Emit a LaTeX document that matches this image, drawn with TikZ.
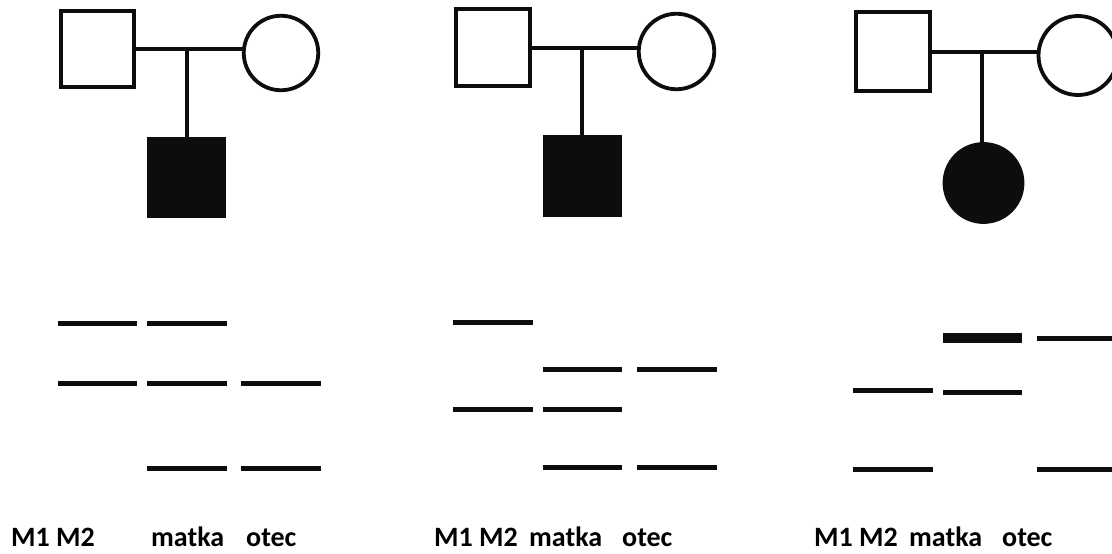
\documentclass[tikz,border=0pt]{standalone}
\usepackage{fontspec}
\setmainfont{Carlito}[BoldFont={Carlito Bold}]
\begin{document}
\begin{tikzpicture}[x=1pt,y=-1pt,
  ped/.style={line width=3.8pt,draw=black!95},
  male/.style={ped,rectangle,inner sep=0pt,outer sep=0pt},
  female/.style={ped,circle,inner sep=0pt,outer sep=0pt},
  aff/.style={fill=black!95},
  band/.style={line width=5pt,draw=black!95},
  thickband/.style={line width=10pt,draw=black!95},
  lab/.style={anchor=base west,inner sep=0pt,font=\fontsize{28}{28}\selectfont\bfseries}]
\clip (0,0) rectangle (1112,554);
\fill[white] (0,0) rectangle (1112,554);

% ---------- panel 1 ----------
\node[male,minimum width=73.5pt,minimum height=76.5pt] (f1) at (97.5,49) {};
\node[female,minimum size=74.5pt] (m1) at (281,53) {};
\node[male,aff,minimum width=76pt,minimum height=78pt] (c1) at (186.5,177.5) {};
\coordinate (j1) at (187,49);
\draw[ped] (f1.east |- j1) -- (j1) -- (m1.west |- j1);
\draw[ped] (j1) -- (c1.north -| j1);

% ---------- panel 2 ----------
\node[male,minimum width=74.5pt,minimum height=77.5pt] (f2) at (493,47.5) {};
\node[female,minimum size=75.5pt] (m2) at (676.5,51.5) {};
\node[male,aff,minimum width=76pt,minimum height=79pt] (c2) at (582.5,176) {};
\coordinate (j2) at (582,48);
\draw[ped] (f2.east |- j2) -- (j2) -- (m2.west |- j2);
\draw[ped] (j2) -- (c2.north -| j2);

% ---------- panel 3 ----------
\node[male,minimum width=74.5pt,minimum height=79.5pt] (f3) at (893,51.5) {};
\node[female,minimum size=79pt] (m3) at (1078,55.5) {};
\node[female,aff,minimum size=78pt] (c3) at (983.5,183) {};
\coordinate (j3) at (982,52);
\draw[ped] (f3.east |- j3) -- (j3) -- (m3.west |- j3);
\draw[ped] (j3) -- (c3.north -| j3);

% ---------- bands panel 1 ----------
\draw[band] (58,323) -- (137,323);
\draw[band] (147,323) -- (227,323);
\draw[band] (58,383) -- (137,383);
\draw[band] (147,383) -- (227,383);
\draw[band] (241,383) -- (321,383);
\draw[band] (147,468) -- (227,468);
\draw[band] (241,468) -- (321,468);

% ---------- bands panel 2 ----------
\draw[band] (453,322) -- (533,322);
\draw[band] (543,369) -- (622,369);
\draw[band] (637,369) -- (717,369);
\draw[band] (453,409) -- (533,409);
\draw[band] (543,409) -- (622,409);
\draw[band] (543,467) -- (622,467);
\draw[band] (637,467) -- (717,467);

% ---------- bands panel 3 ----------
\draw[thickband] (943,338) -- (1022,338);
\draw[band] (1037,338) -- (1120,338);
\draw[band] (853,390) -- (933,390);
\draw[band] (943,392) -- (1022,392);
\draw[band] (853,469) -- (933,469);
\draw[band] (1037,469) -- (1120,469);

% ---------- labels ----------
\node[lab] (l1a) at (11,546) {M1 M2};
\node[lab] (l1b) at (151,546) {matka};
\node[lab] (l1c) at (246,546) {otec};
\node[lab] (l2a) at (434,546) {M1 M2};
\node[lab] (l2b) at (529,546) {matka};
\node[lab] (l2c) at (622,546) {otec};
\node[lab] (l3a) at (814,546) {M1 M2};
\node[lab] (l3b) at (909,546) {matka};
\node[lab] (l3c) at (1002,546) {otec};
\end{tikzpicture}
\end{document}
